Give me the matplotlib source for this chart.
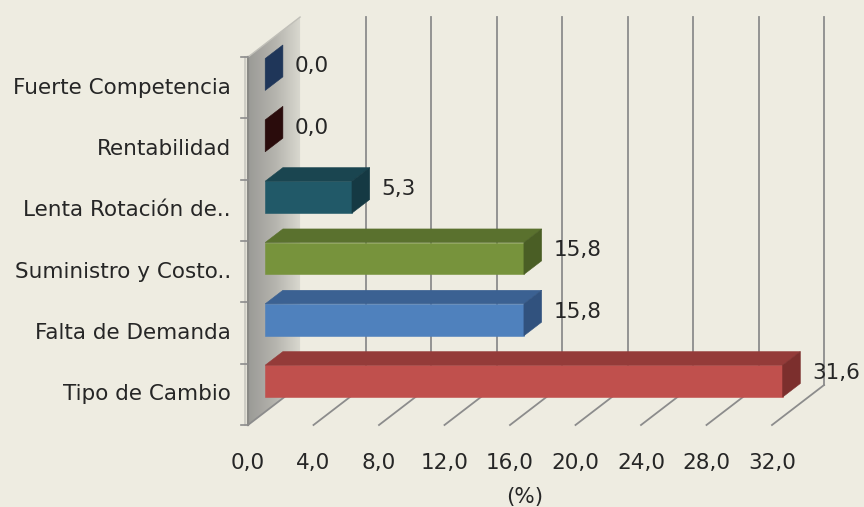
import numpy as np
import matplotlib
matplotlib.use("Agg")
import matplotlib.pyplot as plt
from matplotlib.patches import Polygon
from matplotlib.colors import LinearSegmentedColormap

plt.rcParams['font.family'] = ['DejaVu Sans']

# ---- data ----
categories = ["Tipo de Cambio", "Falta de Demanda", "Suministro y Costo..",
              "Lenta Rotación de..", "Rentabilidad", "Fuerte Competencia"]
values = [31.6, 15.8, 15.8, 5.3, 0.0, 0.0]
value_labels = ["31,6", "15,8", "15,8", "5,3", "0,0", "0,0"]
x_ticks = [0, 4, 8, 12, 16, 20, 24, 28, 32]
x_tick_labels = ["0,0", "4,0", "8,0", "12,0", "16,0", "20,0", "24,0", "28,0", "32,0"]
x_axis_title = "(%)"

# face colours (front, top, side)
front_colors = ["#C0504D", "#4F81BD", "#77933C", "#215968", "#3A1414", "#2A4A75"]
top_colors = ["#943B39", "#3B6192", "#5A712E", "#1A4550", "#301010", "#223C60"]
side_colors = ["#7C2F2D", "#31527E", "#4A5E25", "#153943", "#2A0C0C", "#1F3659"]

BG = "#EEECE1"
GRID = "#8C8C8C"
TXT = "#262626"
FS = 15.5

# oblique "3D" projection parameters (value units / category units)
DX = 3.18     # depth shift along value axis for full depth
DY = 0.652    # depth shift along category axis for full depth
T1, T2 = 0.33, 0.67   # bar depth span
H = 0.26      # half bar height
C0, C1 = -0.5, len(categories) - 0.5


def P(v, c, t):
    return (v + t * DX, c + t * DY)


fig = plt.figure(figsize=(8.64, 5.07), dpi=100, facecolor=BG)
ax = fig.add_axes([0, 0, 1, 1])
ax.set_facecolor(BG)
ax.axis("off")

# ---- left wall with gradient ----
wall = [P(0, C0, 0), P(0, C1, 0), P(0, C1, 1), P(0, C0, 1)]
wall_patch = Polygon(wall, closed=True, facecolor="none", edgecolor="none")
ax.add_patch(wall_patch)
grad = np.linspace(0, 1, 256)[None, :]
wcmap = LinearSegmentedColormap.from_list("w", ["#9A9A96", "#B4B3AD", "#DAD9D0"])
xs = [p[0] for p in wall]
ys = [p[1] for p in wall]
im = ax.imshow(grad, extent=[min(xs), max(xs), min(ys), max(ys)], cmap=wcmap,
               aspect="auto", zorder=1, interpolation="bilinear")
im.set_clip_path(wall_patch)
ax.set_xlim(-15.145, 37.618)
ax.set_ylim(-1.837, 6.43)

# wall front edge (thickness)
ax.plot([0, 0], [C0, C1], color="#8A8A86", lw=1.6, zorder=2)
ax.plot([-0.2, -0.2], [C0, C1], color="#C8C7C0", lw=1.2, zorder=2)
ax.plot([P(0, C1, 0)[0], P(0, C1, 1)[0]], [P(0, C1, 0)[1], P(0, C1, 1)[1]],
        color="#C0BFB8", lw=1.0, zorder=2)

# category tick marks on wall front edge
for k in range(len(categories) + 1):
    y = C0 + k
    ax.plot([-0.4, 0], [y, y], color=GRID, lw=1.2, zorder=2)

# ---- gridlines: back verticals + floor diagonals ----
for v in x_ticks:
    if v > 0:
        xb, yb = P(v, C0, 1)
        xt, yt = P(v, C1, 1)
        ax.plot([xb, xt], [yb, yt], color=GRID, lw=1.3, zorder=1.5)
    xf, yf = P(v, C0, 0)
    xb, yb = P(v, C0, 1)
    ax.plot([xf, xb], [yf, yb], color=GRID, lw=1.3, zorder=1.5)

# ---- bars ----
for i, (v, fc, tc, sc) in enumerate(zip(values, front_colors, top_colors, side_colors)):
    c = i
    front = [P(0, c - H, T1), P(v, c - H, T1), P(v, c + H, T1), P(0, c + H, T1)]
    top = [P(0, c + H, T1), P(v, c + H, T1), P(v, c + H, T2), P(0, c + H, T2)]
    side = [P(v, c - H, T1), P(v, c + H, T1), P(v, c + H, T2), P(v, c - H, T2)]
    if v > 0:
        ax.add_patch(Polygon(front, closed=True, facecolor=fc, edgecolor=fc, lw=0.4, zorder=3))
        ax.add_patch(Polygon(top, closed=True, facecolor=tc, edgecolor=tc, lw=0.4, zorder=3))
    ax.add_patch(Polygon(side, closed=True, facecolor=sc, edgecolor=sc, lw=0.4, zorder=3))
    lx, ly = P(v, c, T2)
    ax.text(lx + 0.72, ly - 0.09, value_labels[i], ha="left", va="center",
            fontsize=FS, color=TXT, zorder=4)

# ---- category labels ----
for i, name in enumerate(categories):
    ax.text(-1.05, i, name, ha="right", va="center", fontsize=FS, color=TXT)

# ---- value axis tick labels ----
for v, lab in zip(x_ticks, x_tick_labels):
    ax.text(v, -1.12, lab, ha="center", va="center", fontsize=FS, color=TXT)
ax.text(16.9, -1.68, x_axis_title, ha="center", va="center", fontsize=FS, color=TXT)

fig.savefig("out.png", dpi=100, facecolor=BG)
